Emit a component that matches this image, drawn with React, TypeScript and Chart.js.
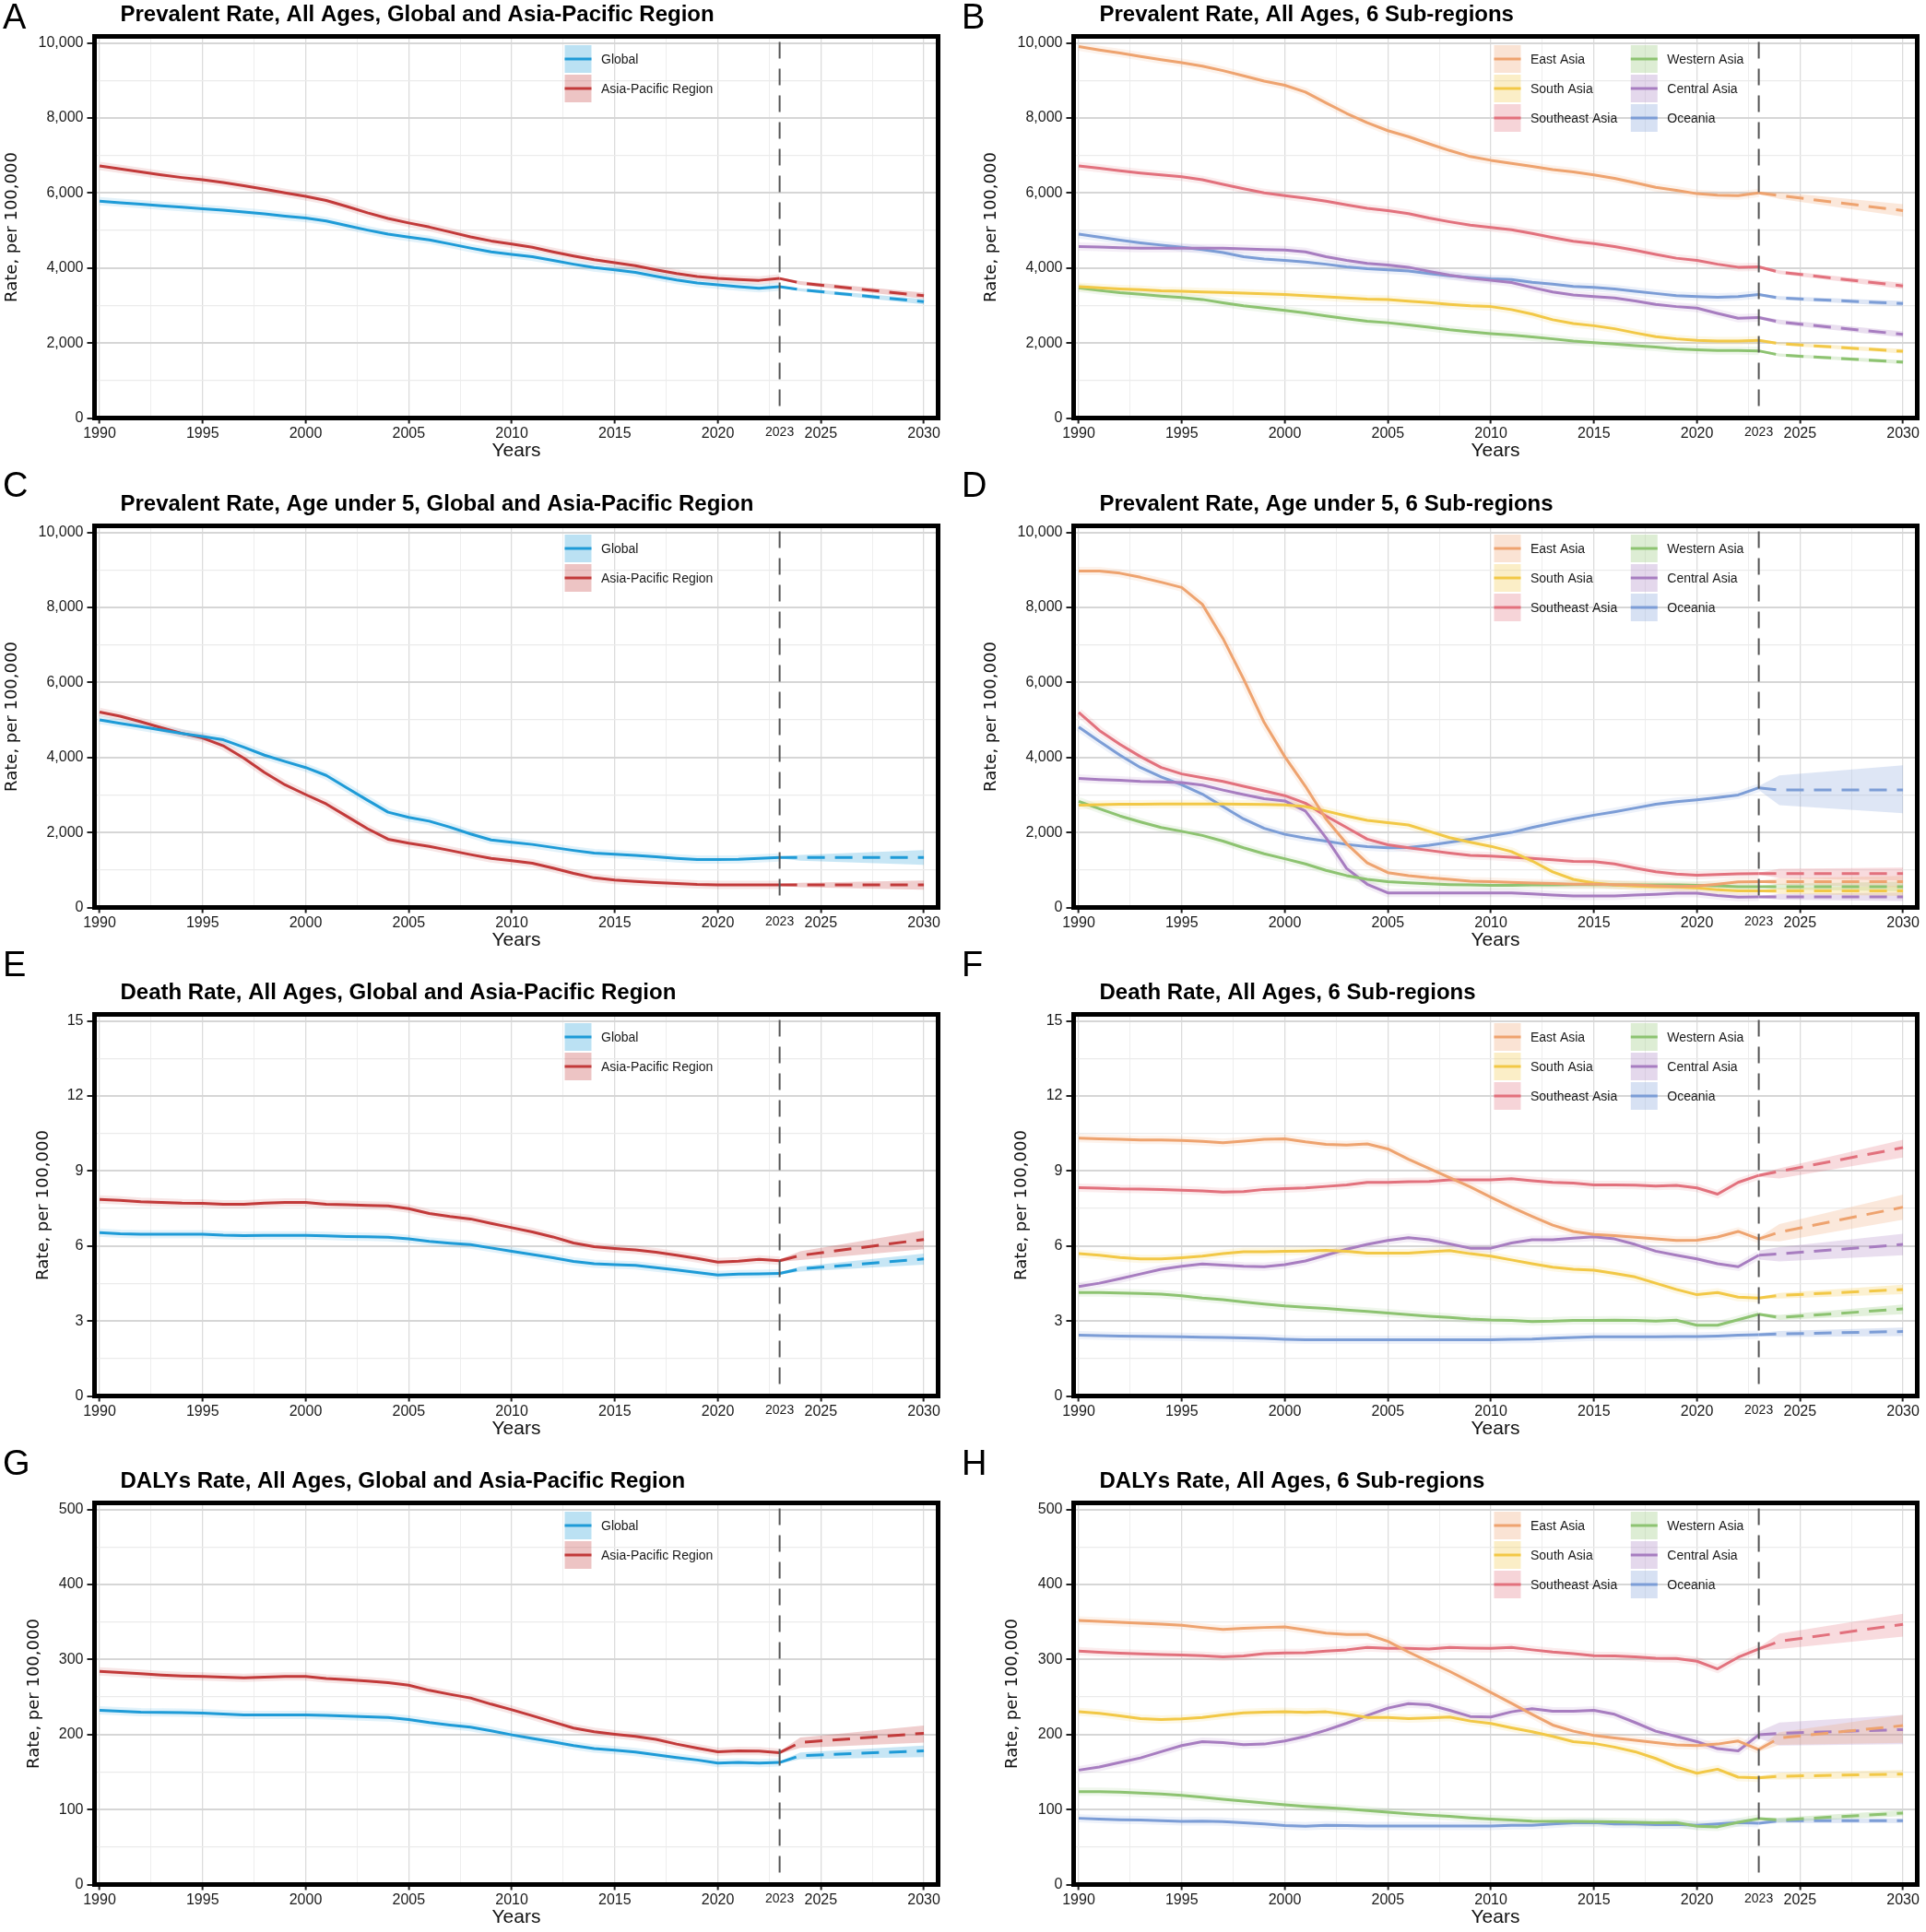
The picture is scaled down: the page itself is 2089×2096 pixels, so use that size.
import React, { useEffect, useRef } from 'react';
import { Chart, registerables } from 'chart.js';

Chart.register(...registerables);

// ---------- shared axes ----------
const YEARS = [
  1990, 1991, 1992, 1993, 1994, 1995, 1996, 1997, 1998, 1999,
  2000, 2001, 2002, 2003, 2004, 2005, 2006, 2007, 2008, 2009,
  2010, 2011, 2012, 2013, 2014, 2015, 2016, 2017, 2018, 2019,
  2020, 2021, 2022, 2023,
];
const FC_YEARS = [2023, 2024, 2030];
const CUT_YEAR = 2023;
const X_LABEL_YEARS = [1990, 1995, 2000, 2005, 2010, 2015, 2020, 2023, 2025, 2030];

const PREV_TICKS = [0, 2000, 4000, 6000, 8000, 10000];
const DEATH_TICKS = [0, 3, 6, 9, 12, 15];
const DALY_TICKS = [0, 100, 200, 300, 400, 500];

// ---------- colours ----------
const GLOBAL_COLOR = '#1e9bd7';
const APR_COLOR = '#c23a3a';
const SUB_NAMES = ['East Asia', 'South Asia', 'Southeast Asia', 'Western Asia', 'Central Asia', 'Oceania'];
const SUB_COLORS = ['#eea36f', '#f2c846', '#e2717d', '#8dc371', '#a77dc0', '#7c9dd6'];

// ---------- A: prevalence, all ages ----------
const A_GLOBAL = [5780, 5740, 5700, 5660, 5620, 5575, 5540, 5490, 5440, 5380, 5330, 5250, 5130, 5010, 4900, 4820, 4750, 4640, 4530, 4430, 4360, 4300, 4200, 4100, 4010, 3950, 3880, 3780, 3680, 3600, 3550, 3500, 3460, 3500];
const A_GLOBAL_FC = [3500, 3420, 3100];
const A_GLOBAL_LO = [3480, 3380, 3030];
const A_GLOBAL_HI = [3520, 3460, 3170];
const A_APR = [6720, 6640, 6560, 6480, 6410, 6350, 6280, 6190, 6100, 6000, 5910, 5800, 5640, 5470, 5320, 5200, 5090, 4960, 4830, 4720, 4640, 4550, 4430, 4320, 4220, 4140, 4060, 3950, 3850, 3770, 3720, 3690, 3670, 3720];
const A_APR_FC = [3720, 3600, 3260];
const A_APR_LO = [3690, 3550, 3180];
const A_APR_HI = [3750, 3650, 3340];

// ---------- B: prevalence, all ages, sub-regions ----------
const B_EA = [9900, 9810, 9730, 9640, 9550, 9470, 9380, 9260, 9120, 8980, 8870, 8690, 8400, 8120, 7870, 7660, 7500, 7310, 7130, 6970, 6870, 6790, 6710, 6620, 6560, 6480, 6390, 6270, 6150, 6070, 5980, 5940, 5930, 6000];
const B_EA_FC = [6000, 5930, 5530];
const B_EA_LO = [5960, 5840, 5370];
const B_EA_HI = [6040, 6020, 5700];
const B_SA = [3500, 3470, 3440, 3420, 3390, 3380, 3360, 3345, 3330, 3310, 3295, 3260, 3230, 3200, 3170, 3155, 3115, 3075, 3030, 2990, 2970, 2890, 2770, 2620, 2520, 2460, 2380, 2270, 2170, 2110, 2070, 2050, 2050, 2070];
const B_SA_FC = [2070, 1980, 1780];
const B_SA_LO = [2040, 1940, 1720];
const B_SA_HI = [2100, 2020, 1840];
const B_SEA = [6720, 6660, 6590, 6530, 6480, 6430, 6350, 6230, 6110, 6000, 5930, 5860, 5780, 5680, 5590, 5530, 5450, 5330, 5230, 5140, 5080, 5020, 4920, 4810, 4710, 4650, 4570, 4470, 4360, 4260, 4200, 4100, 4020, 4030];
const B_SEA_FC = [4030, 3890, 3520];
const B_SEA_LO = [4000, 3840, 3440];
const B_SEA_HI = [4060, 3940, 3600];
const B_WA = [3470, 3400, 3340, 3300, 3250, 3210, 3160, 3070, 2990, 2930, 2870, 2800, 2720, 2650, 2580, 2540, 2480, 2420, 2350, 2300, 2250, 2210, 2160, 2110, 2050, 2010, 1970, 1930, 1890, 1840, 1820, 1800, 1800, 1790];
const B_WA_FC = [1790, 1680, 1490];
const B_WA_LO = [1760, 1640, 1440];
const B_WA_HI = [1820, 1720, 1540];
const B_CA = [4570, 4560, 4540, 4530, 4525, 4530, 4530, 4525, 4510, 4490, 4480, 4430, 4300, 4200, 4120, 4080, 4020, 3910, 3810, 3730, 3670, 3610, 3480, 3360, 3280, 3240, 3200, 3120, 3030, 2970, 2930, 2790, 2660, 2680];
const B_CA_FC = [2680, 2560, 2230];
const B_CA_LO = [2640, 2500, 2150];
const B_CA_HI = [2720, 2620, 2310];
const B_OC = [4900, 4820, 4740, 4670, 4610, 4550, 4490, 4410, 4300, 4240, 4200, 4160, 4100, 4030, 3980, 3950, 3920, 3850, 3790, 3750, 3710, 3690, 3620, 3570, 3510, 3480, 3440, 3380, 3320, 3260, 3240, 3220, 3240, 3290];
const B_OC_FC = [3290, 3200, 3050];
const B_OC_LO = [3260, 3150, 2980];
const B_OC_HI = [3320, 3250, 3120];

// ---------- C: prevalence, under 5 ----------
const C_GLOBAL = [5000, 4910, 4820, 4730, 4640, 4560, 4470, 4270, 4060, 3890, 3730, 3520, 3190, 2860, 2540, 2400, 2300, 2140, 1960, 1800, 1740, 1680, 1600, 1520, 1450, 1420, 1390, 1350, 1310, 1280, 1275, 1285, 1310, 1335];
const C_GLOBAL_FC = [1335, 1335, 1335];
const C_GLOBAL_LO = [1310, 1250, 1135];
const C_GLOBAL_HI = [1360, 1400, 1530];
const C_APR = [5210, 5100, 4950, 4790, 4640, 4520, 4310, 3980, 3600, 3270, 3010, 2760, 2430, 2100, 1820, 1715, 1630, 1520, 1410, 1310, 1245, 1180, 1050, 910, 790, 730, 695, 665, 640, 615, 605, 600, 600, 605];
const C_APR_FC = [605, 600, 600];
const C_APR_LO = [580, 540, 470];
const C_APR_HI = [630, 660, 720];

// ---------- D: prevalence, under 5, sub-regions ----------
const D_EA = [8970, 8970, 8910, 8800, 8670, 8530, 8080, 7170, 6090, 4930, 4020, 3230, 2360, 1700, 1190, 930, 850, 790, 750, 700, 690, 670, 650, 640, 620, 620, 610, 600, 580, 560, 570, 620, 680, 690];
const D_EA_FC = [690, 690, 690];
const D_EA_LO = [670, 600, 540];
const D_EA_HI = [710, 780, 840];
const D_SA = [2730, 2740, 2750, 2750, 2755, 2760, 2760, 2755, 2750, 2745, 2735, 2690, 2570, 2440, 2320, 2260, 2200, 2030, 1860, 1740, 1630, 1490, 1240, 950, 750, 650, 600, 570, 555, 545, 520, 470, 440, 440];
const D_SA_FC = [440, 440, 440];
const D_SA_LO = [420, 360, 310];
const D_SA_HI = [460, 520, 570];
const D_SEA = [5200, 4720, 4350, 4020, 3730, 3560, 3460, 3360, 3230, 3110, 2980, 2780, 2440, 2130, 1820, 1670, 1590, 1520, 1450, 1390, 1370, 1340, 1310, 1270, 1230, 1220, 1160, 1050, 950, 890, 860, 880, 895, 905];
const D_SEA_FC = [905, 905, 905];
const D_SEA_LO = [880, 780, 720];
const D_SEA_HI = [930, 1030, 1060];
const D_WA = [2830, 2630, 2440, 2280, 2130, 2030, 1920, 1770, 1590, 1430, 1300, 1160, 990, 850, 750, 690, 655, 630, 610, 600, 590, 590, 600, 605, 610, 615, 605, 600, 600, 600, 590, 580, 555, 555];
const D_WA_FC = [555, 555, 555];
const D_WA_LO = [540, 480, 430];
const D_WA_HI = [570, 630, 690];
const D_CA = [3440, 3410, 3390, 3360, 3350, 3330, 3260, 3130, 3010, 2900, 2840, 2570, 1860, 1040, 620, 390, 390, 390, 390, 390, 390, 385, 360, 330, 310, 310, 310, 330, 350, 380, 380, 320, 275, 280];
const D_CA_FC = [280, 285, 285];
const D_CA_LO = [260, 210, 170];
const D_CA_HI = [300, 360, 400];
const D_OC = [4810, 4430, 4060, 3730, 3480, 3270, 3020, 2690, 2360, 2110, 1950, 1850, 1770, 1680, 1620, 1590, 1600, 1660, 1740, 1820, 1910, 2000, 2130, 2250, 2360, 2460, 2550, 2650, 2750, 2820, 2870, 2930, 3000, 3190];
const D_OC_FC = [3190, 3130, 3130];
const D_OC_LO = [3130, 2730, 2510];
const D_OC_HI = [3240, 3520, 3790];

// ---------- E: deaths ----------
const E_GLOBAL = [6.53, 6.49, 6.47, 6.47, 6.47, 6.47, 6.43, 6.41, 6.42, 6.42, 6.42, 6.40, 6.38, 6.37, 6.35, 6.28, 6.18, 6.11, 6.05, 5.92, 5.79, 5.66, 5.53, 5.38, 5.29, 5.25, 5.22, 5.13, 5.04, 4.94, 4.84, 4.87, 4.88, 4.90];
const E_GLOBAL_FC = [4.90, 5.08, 5.48];
const E_GLOBAL_LO = [4.86, 4.98, 5.25];
const E_GLOBAL_HI = [4.94, 5.18, 5.69];
const E_APR = [7.86, 7.82, 7.77, 7.74, 7.71, 7.70, 7.67, 7.67, 7.71, 7.74, 7.74, 7.67, 7.65, 7.62, 7.60, 7.49, 7.30, 7.18, 7.08, 6.90, 6.73, 6.56, 6.36, 6.12, 5.97, 5.90, 5.84, 5.75, 5.63, 5.50, 5.35, 5.39, 5.46, 5.41];
const E_APR_FC = [5.41, 5.62, 6.26];
const E_APR_LO = [5.36, 5.44, 5.87];
const E_APR_HI = [5.46, 5.79, 6.62];

// ---------- F: deaths, sub-regions ----------
const F_EA = [10.31, 10.28, 10.26, 10.24, 10.24, 10.22, 10.18, 10.13, 10.19, 10.26, 10.28, 10.16, 10.06, 10.03, 10.08, 9.88, 9.47, 9.10, 8.73, 8.36, 7.95, 7.55, 7.18, 6.83, 6.58, 6.46, 6.41, 6.35, 6.28, 6.22, 6.23, 6.36, 6.58, 6.28];
const F_EA_FC = [6.28, 6.55, 7.55];
const F_EA_LO = [6.22, 6.18, 7.05];
const F_EA_HI = [6.34, 6.87, 8.05];
const F_SA = [5.69, 5.63, 5.54, 5.48, 5.48, 5.53, 5.59, 5.69, 5.77, 5.77, 5.79, 5.80, 5.82, 5.79, 5.71, 5.71, 5.71, 5.77, 5.81, 5.69, 5.59, 5.44, 5.29, 5.15, 5.07, 5.03, 4.90, 4.76, 4.51, 4.26, 4.05, 4.14, 3.95, 3.92];
const F_SA_FC = [3.92, 4.02, 4.26];
const F_SA_LO = [3.88, 3.90, 4.07];
const F_SA_HI = [3.96, 4.12, 4.45];
const F_SEA = [8.33, 8.31, 8.28, 8.27, 8.26, 8.23, 8.20, 8.15, 8.17, 8.26, 8.29, 8.32, 8.38, 8.44, 8.54, 8.54, 8.57, 8.58, 8.64, 8.64, 8.64, 8.69, 8.61, 8.54, 8.51, 8.44, 8.44, 8.43, 8.39, 8.42, 8.32, 8.07, 8.54, 8.82];
const F_SEA_FC = [8.82, 8.98, 9.93];
const F_SEA_LO = [8.76, 8.70, 9.54];
const F_SEA_HI = [8.88, 9.10, 10.25];
const F_WA = [4.14, 4.14, 4.12, 4.10, 4.07, 4.01, 3.92, 3.85, 3.76, 3.68, 3.60, 3.55, 3.50, 3.44, 3.38, 3.32, 3.25, 3.19, 3.14, 3.08, 3.04, 3.02, 2.98, 2.99, 3.02, 3.02, 3.03, 3.02, 2.99, 3.03, 2.83, 2.83, 3.05, 3.27];
const F_WA_FC = [3.27, 3.14, 3.48];
const F_WA_LO = [3.22, 3.04, 3.27];
const F_WA_HI = [3.32, 3.24, 3.66];
const F_CA = [4.38, 4.51, 4.69, 4.88, 5.07, 5.19, 5.28, 5.23, 5.19, 5.17, 5.25, 5.40, 5.63, 5.87, 6.06, 6.22, 6.33, 6.25, 6.08, 5.91, 5.91, 6.12, 6.25, 6.25, 6.31, 6.37, 6.28, 6.06, 5.79, 5.63, 5.48, 5.29, 5.17, 5.63];
const F_CA_FC = [5.63, 5.68, 6.06];
const F_CA_LO = [5.45, 5.38, 5.63];
const F_CA_HI = [5.81, 5.95, 6.49];
const F_OC = [2.43, 2.41, 2.40, 2.39, 2.38, 2.37, 2.35, 2.34, 2.32, 2.30, 2.27, 2.25, 2.25, 2.25, 2.25, 2.25, 2.25, 2.25, 2.25, 2.25, 2.25, 2.27, 2.28, 2.31, 2.34, 2.37, 2.37, 2.37, 2.37, 2.38, 2.38, 2.40, 2.43, 2.45];
const F_OC_FC = [2.45, 2.48, 2.58];
const F_OC_LO = [2.38, 2.36, 2.40];
const F_OC_HI = [2.52, 2.60, 2.74];

// ---------- G: DALYs ----------
const G_GLOBAL = [232.2, 231.0, 229.8, 229.4, 229.2, 228.5, 227.3, 226.1, 226.1, 226.1, 226.1, 225.3, 224.4, 223.6, 222.8, 220.0, 215.9, 212.6, 209.7, 204.8, 199.5, 194.6, 190.1, 185.2, 181.1, 179.1, 176.6, 172.9, 169.3, 166.0, 161.9, 162.7, 161.9, 162.7];
const G_GLOBAL_FC = [162.7, 171.7, 178.2];
const G_GLOBAL_LO = [161.0, 167.0, 169.7];
const G_GLOBAL_HI = [164.4, 176.0, 185.2];
const G_APR = [284.1, 282.5, 280.9, 279.2, 278.0, 277.2, 276.4, 275.6, 276.4, 277.2, 277.2, 274.7, 273.1, 271.1, 269.0, 265.7, 258.8, 253.5, 248.6, 240.4, 233.0, 224.9, 216.7, 208.5, 203.6, 200.3, 197.5, 193.4, 187.2, 181.9, 177.0, 178.2, 177.8, 175.8];
const G_APR_FC = [175.8, 189.3, 201.6];
const G_APR_LO = [174.0, 182.0, 189.3];
const G_APR_HI = [177.6, 196.0, 211.8];

// ---------- H: DALYs, sub-regions ----------
const H_EA = [352.0, 350.8, 349.6, 348.3, 347.1, 345.5, 342.6, 340.1, 341.4, 342.6, 343.4, 339.3, 335.2, 333.2, 333.2, 324.2, 309.9, 296.8, 284.1, 270.2, 255.9, 241.6, 226.9, 212.6, 204.4, 198.7, 195.4, 192.2, 189.3, 186.0, 185.2, 187.2, 191.3, 179.9];
const H_EA_FC = [179.9, 195.4, 211.8];
const H_EA_LO = [177.0, 186.0, 189.0];
const H_EA_HI = [183.0, 203.0, 226.0];
const H_SA = [230.2, 228.1, 224.9, 221.2, 220.0, 220.8, 222.8, 226.1, 228.9, 229.8, 230.2, 229.4, 230.2, 226.9, 222.8, 222.8, 221.2, 222.0, 223.2, 217.9, 214.6, 208.9, 203.6, 197.5, 190.5, 188.1, 183.2, 177.0, 168.0, 156.6, 148.4, 153.7, 143.1, 142.3];
const H_SA_FC = [142.3, 144.3, 147.2];
const H_SA_LO = [140.0, 140.0, 142.3];
const H_SA_HI = [144.6, 149.0, 152.5];
const H_SEA = [311.1, 309.5, 308.3, 307.4, 306.6, 305.8, 305.0, 303.3, 304.6, 307.8, 308.7, 309.1, 311.1, 312.8, 316.0, 314.8, 314.8, 314.0, 316.0, 315.2, 314.8, 316.0, 312.8, 309.9, 307.8, 305.0, 304.6, 303.3, 301.7, 301.3, 297.6, 287.4, 302.9, 314.0];
const H_SEA_FC = [314.0, 324.2, 346.7];
const H_SEA_LO = [312.0, 314.0, 330.6];
const H_SEA_HI = [316.0, 334.4, 361.0];
const H_WA = [123.9, 123.9, 123.1, 121.8, 120.6, 119.0, 116.5, 113.7, 111.2, 108.7, 106.3, 104.2, 102.6, 100.6, 98.5, 96.5, 94.4, 92.4, 90.8, 88.7, 87.1, 85.9, 84.6, 84.2, 84.2, 83.8, 83.4, 83.0, 82.2, 82.6, 77.7, 76.9, 83.0, 87.9];
const H_WA_FC = [87.9, 85.9, 95.3];
const H_WA_LO = [86.0, 83.0, 91.2];
const H_WA_HI = [89.8, 89.0, 99.3];
const H_CA = [152.5, 156.6, 162.7, 168.8, 177.0, 185.2, 190.5, 189.3, 186.4, 187.2, 191.3, 197.5, 205.6, 215.0, 225.3, 235.1, 241.2, 239.6, 232.2, 224.0, 223.2, 230.2, 234.3, 231.0, 231.0, 232.2, 226.9, 215.9, 204.4, 197.5, 190.5, 181.1, 178.2, 199.5];
const H_CA_FC = [199.5, 201.6, 206.5];
const H_CA_LO = [195.0, 185.2, 187.0];
const H_CA_HI = [204.0, 215.9, 226.0];
const H_OC = [88.3, 87.1, 86.3, 85.9, 85.0, 84.2, 84.6, 83.8, 82.2, 80.9, 78.5, 77.7, 78.9, 78.5, 78.1, 78.1, 78.1, 78.1, 78.1, 78.1, 78.1, 78.9, 78.9, 80.9, 82.2, 82.6, 80.9, 80.9, 79.7, 80.1, 78.9, 80.9, 82.6, 81.8];
const H_OC_FC = [81.8, 85.0, 85.0];
const H_OC_LO = [80.0, 82.0, 82.0];
const H_OC_HI = [83.6, 88.0, 88.0];

// ---------- layout ----------
const SANS = '"Liberation Sans", Arial, Helvetica, sans-serif';
const CANVAS_W = 1044;
const CANVAS_H = 505;
const COL_LEFT = [0, 1045];
const ROW_TOP = [0, 531, 1061, 1591];
const PLOT_LEFT = [102.5, 119.5];
const PLOT_RIGHT = [1017.5, 1034.5];
const PLOT_TOP = 39.5;
const PLOT_BOTTOM = 453.5;
const X_MIN = 1989.754;
const X_MAX = 2030.69;
const LETTER_CAP_TOP = [4, 512, 1032, 1573];

const mk = (name, color, hist, fc, lo, hi) => ({ name, color, hist, fc, lo, hi });
const twoSeries = (g, gfc, glo, ghi, a, afc, alo, ahi) => [
  mk('Global', GLOBAL_COLOR, g, gfc, glo, ghi),
  mk('Asia-Pacific Region', APR_COLOR, a, afc, alo, ahi),
];
const subSeries = (rows) => rows.map((r, i) => mk(SUB_NAMES[i], SUB_COLORS[i], r[0], r[1], r[2], r[3]));

const fmtThousands = (v) => v.toLocaleString('en-US');
const fmtPlain = (v) => String(v);

const PANELS = [
  { letter: 'A', row: 0, col: 0, yTitleX: 13, ticks: PREV_TICKS, fmt: fmtThousands,
    title: 'Prevalent Rate, All Ages, Global and Asia-Pacific Region',
    series: twoSeries(A_GLOBAL, A_GLOBAL_FC, A_GLOBAL_LO, A_GLOBAL_HI, A_APR, A_APR_FC, A_APR_LO, A_APR_HI) },
  { letter: 'B', row: 0, col: 1, yTitleX: 30, ticks: PREV_TICKS, fmt: fmtThousands,
    title: 'Prevalent Rate, All Ages, 6 Sub-regions',
    series: subSeries([[B_EA, B_EA_FC, B_EA_LO, B_EA_HI], [B_SA, B_SA_FC, B_SA_LO, B_SA_HI], [B_SEA, B_SEA_FC, B_SEA_LO, B_SEA_HI], [B_WA, B_WA_FC, B_WA_LO, B_WA_HI], [B_CA, B_CA_FC, B_CA_LO, B_CA_HI], [B_OC, B_OC_FC, B_OC_LO, B_OC_HI]]) },
  { letter: 'C', row: 1, col: 0, yTitleX: 13, ticks: PREV_TICKS, fmt: fmtThousands,
    title: 'Prevalent Rate, Age under 5, Global and Asia-Pacific Region',
    series: twoSeries(C_GLOBAL, C_GLOBAL_FC, C_GLOBAL_LO, C_GLOBAL_HI, C_APR, C_APR_FC, C_APR_LO, C_APR_HI) },
  { letter: 'D', row: 1, col: 1, yTitleX: 30, ticks: PREV_TICKS, fmt: fmtThousands,
    title: 'Prevalent Rate, Age under 5, 6 Sub-regions',
    series: subSeries([[D_EA, D_EA_FC, D_EA_LO, D_EA_HI], [D_SA, D_SA_FC, D_SA_LO, D_SA_HI], [D_SEA, D_SEA_FC, D_SEA_LO, D_SEA_HI], [D_WA, D_WA_FC, D_WA_LO, D_WA_HI], [D_CA, D_CA_FC, D_CA_LO, D_CA_HI], [D_OC, D_OC_FC, D_OC_LO, D_OC_HI]]) },
  { letter: 'E', row: 2, col: 0, yTitleX: 47, ticks: DEATH_TICKS, fmt: fmtPlain,
    title: 'Death Rate, All Ages, Global and Asia-Pacific Region',
    series: twoSeries(E_GLOBAL, E_GLOBAL_FC, E_GLOBAL_LO, E_GLOBAL_HI, E_APR, E_APR_FC, E_APR_LO, E_APR_HI) },
  { letter: 'F', row: 2, col: 1, yTitleX: 63, ticks: DEATH_TICKS, fmt: fmtPlain,
    title: 'Death Rate, All Ages, 6 Sub-regions',
    series: subSeries([[F_EA, F_EA_FC, F_EA_LO, F_EA_HI], [F_SA, F_SA_FC, F_SA_LO, F_SA_HI], [F_SEA, F_SEA_FC, F_SEA_LO, F_SEA_HI], [F_WA, F_WA_FC, F_WA_LO, F_WA_HI], [F_CA, F_CA_FC, F_CA_LO, F_CA_HI], [F_OC, F_OC_FC, F_OC_LO, F_OC_HI]]) },
  { letter: 'G', row: 3, col: 0, yTitleX: 37, ticks: DALY_TICKS, fmt: fmtPlain,
    title: 'DALYs Rate, All Ages, Global and Asia-Pacific Region',
    series: twoSeries(G_GLOBAL, G_GLOBAL_FC, G_GLOBAL_LO, G_GLOBAL_HI, G_APR, G_APR_FC, G_APR_LO, G_APR_HI) },
  { letter: 'H', row: 3, col: 1, yTitleX: 53, ticks: DALY_TICKS, fmt: fmtPlain,
    title: 'DALYs Rate, All Ages, 6 Sub-regions',
    series: subSeries([[H_EA, H_EA_FC, H_EA_LO, H_EA_HI], [H_SA, H_SA_FC, H_SA_LO, H_SA_HI], [H_SEA, H_SEA_FC, H_SEA_LO, H_SEA_HI], [H_WA, H_WA_FC, H_WA_LO, H_WA_HI], [H_CA, H_CA_FC, H_CA_LO, H_CA_HI], [H_OC, H_OC_FC, H_OC_LO, H_OC_HI]]) },
];

function rgba(hex, a) {
  const n = parseInt(hex.slice(1), 16);
  return `rgba(${(n >> 16) & 255}, ${(n >> 8) & 255}, ${n & 255}, ${a})`;
}

const midpoints = (arr) => arr.slice(1).map((v, i) => (v + arr[i]) / 2);
const GRID_YEARS = X_LABEL_YEARS.filter((y) => y !== CUT_YEAR);
const X_TICK_VALUES = [...X_LABEL_YEARS, ...midpoints(GRID_YEARS)].sort((a, b) => a - b);
const isMajorX = (v) => GRID_YEARS.includes(v);

function buildDatasets(series) {
  const pts = (xs, ys) => xs.map((x, i) => ({ x, y: ys[i] }));
  const ds = [];
  series.forEach((s) => {
    ds.push({ data: pts(FC_YEARS, s.lo), borderWidth: 0, pointRadius: 0, fill: false, backgroundColor: 'rgba(0,0,0,0)', order: 3 });
    ds.push({ data: pts(FC_YEARS, s.hi), borderWidth: 0, pointRadius: 0, fill: '-1', backgroundColor: rgba(s.color, 0.25), order: 3 });
  });
  series.forEach((s) => {
    ds.push({ data: pts(YEARS, s.hist), borderColor: rgba(s.color, 0.13), borderWidth: 9, pointRadius: 0, fill: false, order: 2 });
  });
  series.forEach((s) => {
    ds.push({ data: pts(YEARS, s.hist), borderColor: s.color, borderWidth: 3, pointRadius: 0, fill: false, borderJoinStyle: 'round', order: 1 });
    ds.push({ data: pts(FC_YEARS, s.fc), borderColor: s.color, borderWidth: 3, pointRadius: 0, fill: false, borderDash: [19, 11], order: 1 });
  });
  return ds;
}

function decorPlugin(spec) {
  return {
    id: 'panelDecor' + spec.letter,
    afterDatasetsDraw(chart) {
      const { ctx, chartArea: ca, scales } = chart;
      ctx.save();
      // forecast cut-off line
      const xc = scales.x.getPixelForValue(CUT_YEAR);
      ctx.strokeStyle = '#555555';
      ctx.lineWidth = 2;
      ctx.setLineDash([18, 11]);
      ctx.beginPath();
      ctx.moveTo(xc, ca.top + 6);
      ctx.lineTo(xc, ca.bottom);
      ctx.stroke();
      ctx.setLineDash([]);

      // legend inside the panel
      const multi = spec.series.length > 2;
      const lx0 = ca.left + (spec.col === 0 ? 510 : 456);
      const ly0 = ca.top + 24.5;
      ctx.font = `14px ${SANS}`;
      ctx.textBaseline = 'middle';
      ctx.textAlign = 'left';
      spec.series.forEach((s, i) => {
        const colIdx = multi ? Math.floor(i / 3) : 0;
        const rowIdx = multi ? i % 3 : i;
        const kx = lx0 + colIdx * 148.3;
        const ky = ly0 + rowIdx * 32;
        ctx.fillStyle = rgba(s.color, 0.3);
        ctx.fillRect(kx, ky - 15, 29, 30);
        ctx.strokeStyle = s.color;
        ctx.lineWidth = 3;
        ctx.beginPath();
        ctx.moveTo(kx, ky);
        ctx.lineTo(kx + 29, ky);
        ctx.stroke();
        ctx.fillStyle = '#1a1a1a';
        ctx.fillText(s.name, kx + 39.5, ky + 1);
      });

      // panel frame
      ctx.strokeStyle = '#000000';
      ctx.lineWidth = 5;
      ctx.strokeRect(ca.left, ca.top, ca.right - ca.left, ca.bottom - ca.top);

      // panel title
      ctx.fillStyle = '#000000';
      ctx.font = `bold 24px ${SANS}`;
      ctx.textBaseline = 'middle';
      ctx.fillText(spec.title, ca.left + 28, 16);
      ctx.restore();
    },
  };
}

function buildConfig(spec) {
  const col = spec.col;
  const majorsY = spec.ticks;
  const yTickValues = [...majorsY, ...midpoints(majorsY)].sort((a, b) => a - b);
  const top = majorsY[majorsY.length - 1];
  const isMajorY = (v) => majorsY.includes(v);
  return {
    type: 'line',
    data: { datasets: buildDatasets(spec.series) },
    options: {
      animation: false,
      responsive: false,
      devicePixelRatio: 1,
      events: [],
      layout: { padding: { top: PLOT_TOP, right: CANVAS_W - PLOT_RIGHT[col], bottom: 0, left: 0 } },
      plugins: { legend: { display: false }, tooltip: { enabled: false }, title: { display: false } },
      elements: { point: { radius: 0 }, line: { tension: 0 } },
      scales: {
        x: {
          type: 'linear',
          min: X_MIN,
          max: X_MAX,
          afterBuildTicks: (scale) => { scale.ticks = X_TICK_VALUES.map((v) => ({ value: v })); },
          afterFit: (scale) => { scale.height = CANVAS_H - PLOT_BOTTOM; },
          border: { display: false },
          grid: {
            color: (c) => (c.tick && c.tick.value === CUT_YEAR ? 'rgba(0,0,0,0)' : c.tick && isMajorX(c.tick.value) ? '#dcdcdc' : '#eeeeee'),
            lineWidth: (c) => (c.tick && isMajorX(c.tick.value) ? 1.3 : 1),
            tickColor: (c) => (c.tick && isMajorX(c.tick.value) ? '#222222' : 'rgba(0,0,0,0)'),
            tickLength: 6,
            tickWidth: 2,
          },
          ticks: {
            autoSkip: false,
            maxRotation: 0,
            minRotation: 0,
            padding: 1,
            color: '#1a1a1a',
            font: (c) => ({ family: SANS, size: c.tick && c.tick.value === CUT_YEAR ? 14 : 16 }),
            callback: (v) => (X_LABEL_YEARS.includes(v) ? String(v) : ''),
          },
          title: { display: true, text: 'Years', color: '#111111', font: { family: SANS, size: 21 }, padding: { top: 0, bottom: 3 } },
        },
        y: {
          type: 'linear',
          min: 0,
          max: top * 1.0172,
          afterBuildTicks: (scale) => { scale.ticks = yTickValues.map((v) => ({ value: v })); },
          afterFit: (scale) => { scale.width = PLOT_LEFT[col]; },
          border: { display: false },
          grid: {
            color: (c) => (c.tick && isMajorY(c.tick.value) ? '#d6d6d6' : '#ebebeb'),
            lineWidth: (c) => (c.tick && isMajorY(c.tick.value) ? 2 : 1.2),
            tickColor: (c) => (c.tick && isMajorY(c.tick.value) ? '#222222' : 'rgba(0,0,0,0)'),
            tickLength: 8,
            tickWidth: 2,
          },
          ticks: {
            autoSkip: false,
            padding: 4,
            color: '#1a1a1a',
            font: { family: SANS, size: 16 },
            callback: (v) => (isMajorY(v) ? spec.fmt(v) : ''),
          },
          title: {
            display: true,
            text: 'Rate, per 100,000',
            color: '#111111',
            font: { family: '"DejaVu Sans", Verdana, sans-serif', size: 18 },
            padding: { top: spec.yTitleX - 10.8, bottom: 0 },
          },
        },
      },
    },
    plugins: [decorPlugin(spec)],
  };
}

function Panel({ spec }) {
  const ref = useRef(null);
  useEffect(() => {
    const chart = new Chart(ref.current, buildConfig(spec));
    return () => chart.destroy();
  }, [spec]);
  return (
    <canvas
      ref={ref}
      width={CANVAS_W}
      height={CANVAS_H}
      style={{ position: 'absolute', left: COL_LEFT[spec.col], top: ROW_TOP[spec.row], width: CANVAS_W, height: CANVAS_H }}
    />
  );
}

export default function App() {
  return (
    <div style={{ position: 'absolute', left: 0, top: 0, width: 2089, height: 2096, background: '#ffffff', overflow: 'hidden' }}>
      {PANELS.map((p) => (
        <Panel key={p.letter} spec={p} />
      ))}
      {PANELS.map((p) => (
        <div
          key={'label-' + p.letter}
          style={{
            position: 'absolute',
            left: p.col === 0 ? 3 : 1043,
            top: LETTER_CAP_TOP[p.row] - 5,
            fontFamily: SANS,
            fontSize: 38,
            lineHeight: 1,
            color: '#000000',
          }}
        >
          {p.letter}
        </div>
      ))}
    </div>
  );
}
